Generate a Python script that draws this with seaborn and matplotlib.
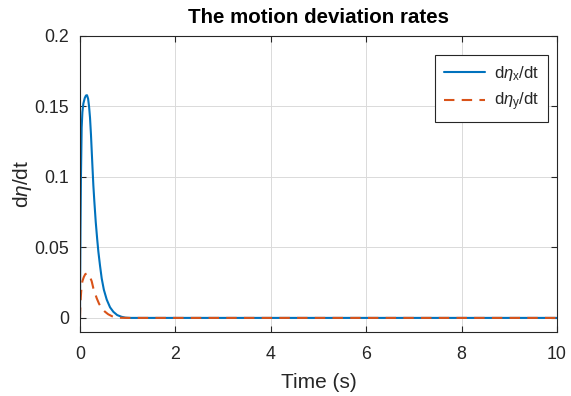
import matplotlib
matplotlib.use("Agg")
import matplotlib.pyplot as plt
import seaborn as sns
import pandas as pd

# Data
time_x = [0.0, 0.003, 0.01, 0.02, 0.035, 0.05, 0.07, 0.10, 0.125, 0.147, 0.17, 0.19,
          0.21, 0.23, 0.245, 0.26, 0.28, 0.30, 0.33, 0.36, 0.385, 0.42, 0.455, 0.50,
          0.56, 0.63, 0.70, 0.78, 0.87, 0.95, 1.05, 2.0, 10.0]
deta_x = [0.0, 0.025, 0.062, 0.100, 0.135, 0.146, 0.152, 0.156, 0.1578, 0.158, 0.1555, 0.150,
          0.142, 0.130, 0.119, 0.108, 0.094, 0.083, 0.068, 0.056, 0.047, 0.037, 0.028, 0.020,
          0.013, 0.0075, 0.0043, 0.002, 0.0008, 0.0002, 0.0, 0.0, 0.0]

time_y = [0.0, 0.005, 0.015, 0.03, 0.05, 0.08, 0.11, 0.147, 0.18, 0.21, 0.245, 0.28,
          0.32, 0.35, 0.40, 0.455, 0.52, 0.59, 0.67, 0.75, 0.85, 1.0, 2.0, 10.0]
deta_y = [0.0, 0.006, 0.014, 0.021, 0.026, 0.029, 0.031, 0.0317, 0.031, 0.029, 0.026, 0.021,
          0.017, 0.014, 0.010, 0.0069, 0.0045, 0.0026, 0.0012, 0.0004, 0.0001, 0.0, 0.0, 0.0]

x_ticks = [0, 2, 4, 6, 8, 10]
y_ticks = [0, 0.05, 0.1, 0.15, 0.2]
y_tick_labels = ["0", "0.05", "0.1", "0.15", "0.2"]

sns.set_theme(style="whitegrid")
plt.rcParams["font.family"] = ["Liberation Sans", "DejaVu Sans"]
plt.rcParams["mathtext.fontset"] = "custom"
plt.rcParams["mathtext.it"] = "Liberation Sans:italic"
plt.rcParams["mathtext.rm"] = "Liberation Sans"

df_x = pd.DataFrame({"t": time_x, "v": deta_x})
df_y = pd.DataFrame({"t": time_y, "v": deta_y})

fig = plt.figure(figsize=(5.71, 3.96), dpi=100)
ax = fig.add_axes([80 / 571, 1 - 332 / 396, 477 / 571, 296 / 396])
ax.set_facecolor("white")

sns.lineplot(data=df_x, x="t", y="v", ax=ax, color="#0072BD", linewidth=1.5,
             label=r"d$\eta_\mathrm{x}$/dt")
sns.lineplot(data=df_y, x="t", y="v", ax=ax, color="#D95319", linewidth=1.5,
             label=r"d$\eta_\mathrm{y}$/dt", linestyle=(0, (5, 3.5)))

ax.set_xlim(0, 10)
ax.set_ylim(-0.01, 0.2)
ax.set_xticks(x_ticks)
ax.set_xticklabels([str(v) for v in x_ticks])
ax.set_yticks(y_ticks)
ax.set_yticklabels(y_tick_labels)

ax.grid(True, color="#dadada", linewidth=0.7)
for s in ax.spines.values():
    s.set_visible(True)
    s.set_color("#262626")
    s.set_linewidth(0.8)

ax.tick_params(axis="both", direction="in", length=4, width=0.8, colors="#262626",
               labelsize=12.8, labelcolor="#262626", top=True, right=True,
               bottom=True, left=True, pad=8)
ax.tick_params(axis="x", pad=10)

ax.set_xlabel("Time (s)", fontsize=15, color="#262626", labelpad=7)
ax.set_ylabel(r"d$\eta$/dt", fontsize=15, color="#262626", labelpad=0)
ax.set_title("The motion deviation rates", fontsize=14.8, fontweight="bold",
             color="black", pad=9)

leg = ax.legend(loc="upper right", bbox_to_anchor=(548 / 571, 1 - 55 / 396),
                bbox_transform=fig.transFigure, borderaxespad=0, fontsize=12,
                frameon=True, fancybox=False, edgecolor="#262626", framealpha=1,
                handlelength=2.5, handletextpad=0.5, borderpad=0.55, labelspacing=0.45)
leg.get_frame().set_linewidth(0.8)

fig.savefig("out.png", dpi=100)
